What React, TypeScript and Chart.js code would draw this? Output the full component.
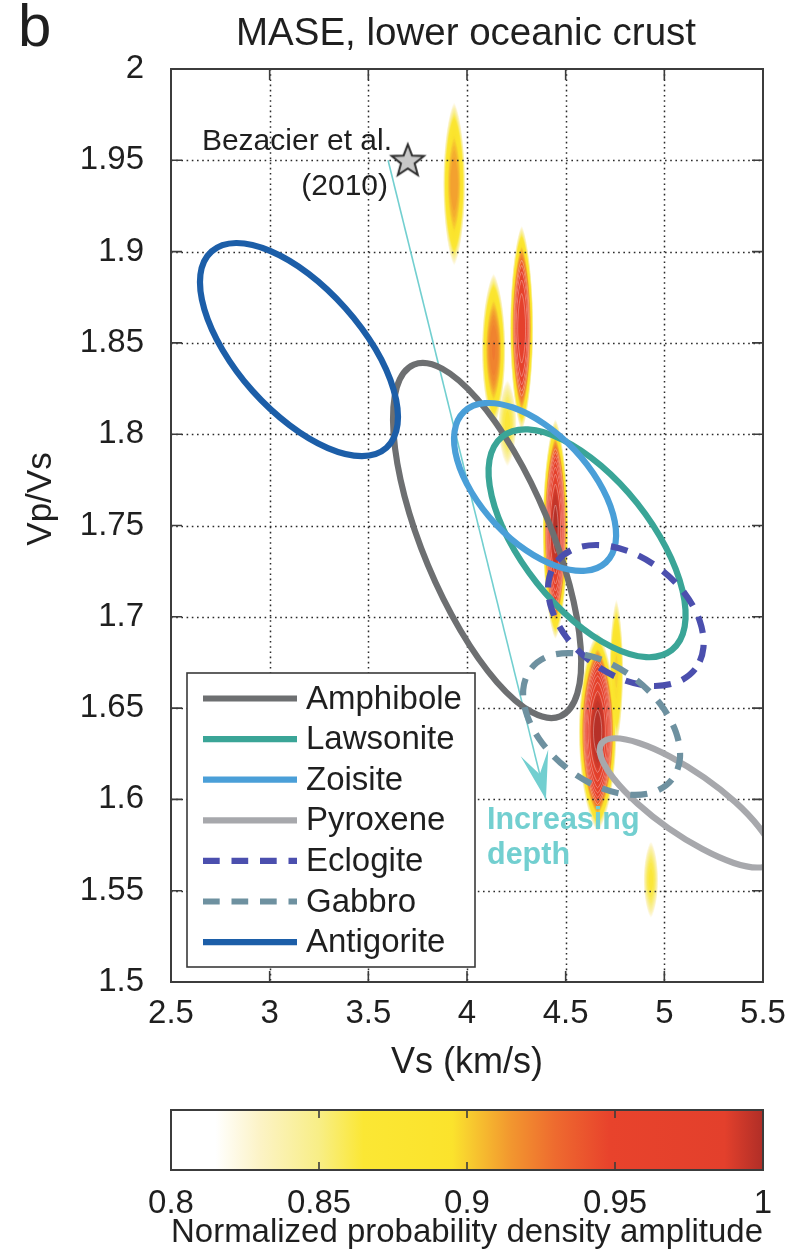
import React, { useEffect, useRef } from 'react';
import { Chart, registerables } from 'chart.js';

Chart.register(...registerables);

const FONT = '"Liberation Sans", Arial, Helvetica, sans-serif';
const TEXT = '#1f1f1f';

// ---------- axes ----------
const xTicks = [2.5, 3, 3.5, 4, 4.5, 5, 5.5];
const yTicks = [1.5, 1.55, 1.6, 1.65, 1.7, 1.75, 1.8, 1.85, 1.9, 1.95, 2];

// ---------- confidence ellipses: outline points [Vs, Vp/Vs] ----------
const amphibole: [number, number][] = [
  [4.472, 1.6455], [4.33, 1.6477], [4.152, 1.6642], [3.967, 1.6925], [3.802, 1.7283], [3.683, 1.7662],
  [3.628, 1.8003], [3.644, 1.8256], [3.731, 1.8381], [3.874, 1.8359], [4.051, 1.8194], [4.236, 1.7911],
  [4.401, 1.7553], [4.52, 1.7174], [4.576, 1.6832], [4.559, 1.658],
];
const lawsonite: [number, number][] = [
  [5.038, 1.6818], [4.908, 1.6779], [4.732, 1.6836], [4.538, 1.6978], [4.354, 1.7185], [4.209, 1.7425],
  [4.125, 1.7662], [4.114, 1.7859], [4.179, 1.7987], [4.309, 1.8026], [4.484, 1.797], [4.679, 1.7828],
  [4.863, 1.7621], [5.008, 1.738], [5.092, 1.7144], [5.103, 1.6946],
];
const zoisite: [number, number][] = [
  [4.704, 1.7298], [4.6, 1.7252], [4.457, 1.7276], [4.298, 1.7365], [4.145, 1.7508], [4.023, 1.7682],
  [3.95, 1.7859], [3.937, 1.8015], [3.986, 1.8124], [4.09, 1.817], [4.233, 1.8146], [4.392, 1.8056],
  [4.545, 1.7914], [4.667, 1.774], [4.74, 1.7562], [4.753, 1.7407],
];
const pyroxene: [number, number][] = [
  [5.542, 1.5655], [5.474, 1.5627], [5.352, 1.5652], [5.193, 1.5728], [5.021, 1.5842], [4.864, 1.5977],
  [4.744, 1.6113], [4.68, 1.6229], [4.682, 1.6307], [4.749, 1.6335], [4.871, 1.6309], [5.03, 1.6234],
  [5.202, 1.612], [5.36, 1.5985], [5.479, 1.5849], [5.544, 1.5733],
];
const eclogite: [number, number][] = [
  [5.156, 1.6713], [5.06, 1.664], [4.926, 1.6622], [4.773, 1.6663], [4.625, 1.6757], [4.504, 1.6888],
  [4.43, 1.7038], [4.412, 1.7183], [4.454, 1.7301], [4.55, 1.7375], [4.684, 1.7392], [4.837, 1.7351],
  [4.985, 1.7257], [5.105, 1.7126], [5.18, 1.6976], [5.198, 1.6831],
];
const gabbro: [number, number][] = [
  [5.038, 1.6108], [4.943, 1.6039], [4.809, 1.6027], [4.655, 1.6073], [4.505, 1.6172], [4.382, 1.6307],
  [4.305, 1.6458], [4.285, 1.6602], [4.326, 1.6718], [4.42, 1.6787], [4.555, 1.6799], [4.709, 1.6753],
  [4.859, 1.6654], [4.982, 1.6519], [5.059, 1.6368], [5.079, 1.6224],
];
const antigorite: [number, number][] = [
  [3.592, 1.7926], [3.468, 1.788], [3.295, 1.7924], [3.101, 1.8049], [2.913, 1.8237], [2.762, 1.846],
  [2.669, 1.8684], [2.649, 1.8874], [2.706, 1.9001], [2.83, 1.9047], [3.002, 1.9004], [3.197, 1.8879],
  [3.384, 1.869], [3.536, 1.8467], [3.628, 1.8244], [3.648, 1.8054],
];

const mineralNames = ['Amphibole', 'Lawsonite', 'Zoisite', 'Pyroxene', 'Eclogite', 'Gabbro', 'Antigorite'];
const mineralColors = ['#6d6f71', '#3aa597', '#4a9fd8', '#a7a8ac', '#4b4fae', '#6e91a0', '#1c5ea8'];
const mineralDashed = [false, false, false, false, true, true, false];
const mineralShapes = [amphibole, lawsonite, zoisite, pyroxene, eclogite, gabbro, antigorite];

// ---------- probability density peaks ----------
const blobVs = [3.935, 4.135, 4.277, 4.205, 4.448, 4.662, 4.757, 4.932];
const blobRatio = [1.937, 1.846, 1.858, 1.806, 1.748, 1.637, 1.67, 1.556];
const blobHalfVs = [0.058, 0.062, 0.06, 0.05, 0.066, 0.098, 0.036, 0.04];
const blobHalfRatio = [0.047, 0.044, 0.058, 0.026, 0.062, 0.056, 0.042, 0.023];
const blobPeak = [0.915, 0.925, 0.975, 0.865, 1.0, 1.0, 0.9, 0.865];

// ---------- reference point & arrow ----------
const starVs = [3.7];
const starRatio = [1.95];
const arrowVs = [3.6, 4.4];
const arrowRatio = [1.95, 1.6];

// ---------- colour map ----------
const cmapLevels = [0.8, 0.815, 0.83, 0.85, 0.865, 0.895, 0.9, 0.915, 0.93, 0.948, 0.987, 1.0];
const cmapColors = ['#ffffff', '#ffffff', '#fcf3c6', '#f8ee86', '#fbe734', '#fbe32c', '#f8cf2f',
  '#f2962f', '#ee6a2f', '#e8432c', '#e3402c', '#b02e27'];
const cbarTicks = [0.8, 0.85, 0.9, 0.95, 1];

function hexRgb(h: string) {
  const n = parseInt(h.slice(1), 16);
  return [(n >> 16) & 255, (n >> 8) & 255, n & 255];
}
function cmap(v: number): string {
  if (v <= cmapLevels[0]) return cmapColors[0];
  for (let i = 1; i < cmapLevels.length; i++) {
    if (v <= cmapLevels[i]) {
      const t = (v - cmapLevels[i - 1]) / (cmapLevels[i] - cmapLevels[i - 1]);
      const a = hexRgb(cmapColors[i - 1]);
      const b = hexRgb(cmapColors[i]);
      const c = a.map((q, k) => Math.round(q + (b[k] - q) * t));
      return `rgb(${c[0]},${c[1]},${c[2]})`;
    }
  }
  return cmapColors[cmapColors.length - 1];
}

function closedSpline(ctx: CanvasRenderingContext2D, pts: { x: number; y: number }[]) {
  const n = pts.length;
  ctx.beginPath();
  ctx.moveTo(pts[0].x, pts[0].y);
  for (let i = 0; i < n; i++) {
    const p0 = pts[(i - 1 + n) % n];
    const p1 = pts[i];
    const p2 = pts[(i + 1) % n];
    const p3 = pts[(i + 2) % n];
    ctx.bezierCurveTo(
      p1.x + (p2.x - p0.x) / 6,
      p1.y + (p2.y - p0.y) / 6,
      p2.x - (p3.x - p1.x) / 6,
      p2.y - (p3.y - p1.y) / 6,
      p2.x,
      p2.y,
    );
  }
  ctx.closePath();
}

function makeStar(): HTMLCanvasElement {
  const c = document.createElement('canvas');
  c.width = 40;
  c.height = 40;
  const g = c.getContext('2d')!;
  g.beginPath();
  for (let i = 0; i < 10; i++) {
    const r = i % 2 === 0 ? 17 : 7.2;
    const a = -Math.PI / 2 + (i * Math.PI) / 5;
    const px = 20 + r * Math.cos(a);
    const py = 21 + r * Math.sin(a);
    if (i === 0) g.moveTo(px, py);
    else g.lineTo(px, py);
  }
  g.closePath();
  g.fillStyle = '#c8c8c8';
  g.fill();
  g.lineWidth = 2;
  g.strokeStyle = '#2e2e2e';
  g.stroke();
  return c;
}

function blobPath(ctx: CanvasRenderingContext2D, cx: number, cy: number, rx: number, ry: number) {
  ctx.beginPath();
  for (let k = 0; k <= 48; k++) {
    const t = (k / 48) * Math.PI * 2;
    const c = Math.cos(t);
    const px = cx + rx * Math.sign(c) * Math.pow(Math.abs(c), 1.4);
    const py = cy + ry * Math.sin(t);
    if (k === 0) ctx.moveTo(px, py);
    else ctx.lineTo(px, py);
  }
  ctx.closePath();
}

const mainPlugin = {
  id: 'mainDecor',
  beforeDraw(chart: any) {
    const { ctx, chartArea: a, scales } = chart;
    const x = scales.x;
    const y = scales.y;
    ctx.save();
    ctx.beginPath();
    ctx.rect(a.left, a.top, a.right - a.left, a.bottom - a.top);
    ctx.clip();
    const top = Math.max(...blobPeak);
    let step = 0;
    for (let L = 0.816; L <= top; L += 0.0032, step++) {
      for (let b = 0; b < blobVs.length; b++) {
        const p = blobPeak[b];
        if (L > p) continue;
        const f = Math.pow((p - L) / (p - 0.8), 0.32);
        const cx = x.getPixelForValue(blobVs[b]);
        const cy = y.getPixelForValue(blobRatio[b]);
        const rx = Math.abs(x.getPixelForValue(blobVs[b] + blobHalfVs[b]) - cx) * f;
        const ry = Math.abs(y.getPixelForValue(blobRatio[b] + blobHalfRatio[b]) - cy) * f;
        blobPath(ctx, cx, cy, rx, ry);
        ctx.fillStyle = cmap(L);
        ctx.fill();
        if (L > 0.93 && step % 3 === 0) {
          ctx.strokeStyle = 'rgba(255,255,255,0.45)';
          ctx.lineWidth = 0.7;
          ctx.stroke();
        }
      }
    }
    ctx.restore();
  },
  beforeDatasetsDraw(chart: any) {
    const { ctx, chartArea: a, scales } = chart;
    ctx.save();
    ctx.strokeStyle = '#2a2a2a';
    ctx.lineWidth = 1.5;
    ctx.setLineDash([1.6, 3.6]);
    scales.x.ticks.forEach((t: any) => {
      const px = Math.round(scales.x.getPixelForValue(t.value)) + 0.5;
      if (px < a.left + 2 || px > a.right - 2) return;
      ctx.beginPath();
      ctx.moveTo(px, a.top);
      ctx.lineTo(px, a.bottom);
      ctx.stroke();
    });
    scales.y.ticks.forEach((t: any) => {
      const py = Math.round(scales.y.getPixelForValue(t.value)) + 0.5;
      if (py < a.top + 2 || py > a.bottom - 2) return;
      ctx.beginPath();
      ctx.moveTo(a.left, py);
      ctx.lineTo(a.right, py);
      ctx.stroke();
    });
    ctx.restore();
  },
  afterDatasetsDraw(chart: any) {
    const { ctx, chartArea: a, scales } = chart;
    // ellipses
    ctx.save();
    ctx.beginPath();
    ctx.rect(a.left, a.top, a.right - a.left, a.bottom - a.top);
    ctx.clip();
    for (let i = 0; i < mineralShapes.length; i++) {
      const meta = chart.getDatasetMeta(i);
      const pts = meta.data.map((e: any) => ({ x: e.x, y: e.y }));
      ctx.strokeStyle = mineralColors[i];
      ctx.lineWidth = 6.2;
      ctx.lineCap = 'butt';
      ctx.lineJoin = 'round';
      ctx.setLineDash(mineralDashed[i] ? [17, 12] : []);
      closedSpline(ctx, pts);
      ctx.stroke();
    }
    ctx.setLineDash([]);
    // arrow head
    const am = chart.getDatasetMeta(mineralShapes.length);
    const p0 = am.data[0];
    const p1 = am.data[1];
    const dx = p1.x - p0.x;
    const dy = p1.y - p0.y;
    const len = Math.hypot(dx, dy);
    const ux = dx / len;
    const uy = dy / len;
    const L = 50;
    const th = (16.5 * Math.PI) / 180;
    const rot = (ang: number) => ({
      x: -(ux * Math.cos(ang) - uy * Math.sin(ang)),
      y: -(ux * Math.sin(ang) + uy * Math.cos(ang)),
    });
    const w1 = rot(th);
    const w2 = rot(-th);
    ctx.fillStyle = '#72cfd0';
    ctx.beginPath();
    ctx.moveTo(p1.x, p1.y);
    ctx.lineTo(p1.x + w1.x * L, p1.y + w1.y * L);
    ctx.lineTo(p1.x - ux * L * 0.52, p1.y - uy * L * 0.52);
    ctx.lineTo(p1.x + w2.x * L, p1.y + w2.y * L);
    ctx.closePath();
    ctx.fill();
    ctx.restore();

    // annotations
    ctx.save();
    ctx.fillStyle = TEXT;
    ctx.font = `30px ${FONT}`;
    ctx.textAlign = 'right';
    ctx.textBaseline = 'middle';
    ctx.fillText('Bezacier et al.', 392, 142);
    ctx.fillText('(2010)', 388, 187);
    ctx.fillStyle = '#72cfd0';
    ctx.font = `bold 30.5px ${FONT}`;
    ctx.textAlign = 'left';
    ctx.fillText('Increasing', 487, 821);
    ctx.fillText('depth', 487, 856);
    ctx.restore();

    // legend
    ctx.save();
    const bw = 288;
    const bh = 294;
    const bl = a.left + 16;
    const bt = a.bottom - 15 - bh;
    ctx.fillStyle = '#ffffff';
    ctx.fillRect(bl, bt, bw, bh);
    ctx.strokeStyle = '#3a3a3a';
    ctx.lineWidth = 1.6;
    ctx.strokeRect(bl, bt, bw, bh);
    ctx.font = `33px ${FONT}`;
    ctx.textBaseline = 'middle';
    ctx.textAlign = 'left';
    for (let i = 0; i < mineralNames.length; i++) {
      const yy = bt + 25.5 + i * 40.6;
      ctx.strokeStyle = mineralColors[i];
      ctx.lineWidth = 6.2;
      ctx.setLineDash(mineralDashed[i] ? [16.7, 11.8] : []);
      ctx.beginPath();
      ctx.moveTo(bl + 16, yy);
      ctx.lineTo(bl + 110, yy);
      ctx.stroke();
      ctx.setLineDash([]);
      ctx.fillStyle = TEXT;
      ctx.fillText(chart.data.datasets[i].label, bl + 119, yy + 1);
    }
    ctx.restore();

    // frame and inward ticks
    ctx.save();
    ctx.strokeStyle = '#3c3c3c';
    ctx.lineWidth = 2;
    ctx.strokeRect(a.left, a.top, a.right - a.left, a.bottom - a.top);
    ctx.lineWidth = 1.6;
    ctx.beginPath();
    scales.x.ticks.forEach((t: any) => {
      const px = scales.x.getPixelForValue(t.value);
      ctx.moveTo(px, a.bottom);
      ctx.lineTo(px, a.bottom - 11);
      ctx.moveTo(px, a.top);
      ctx.lineTo(px, a.top + 11);
    });
    scales.y.ticks.forEach((t: any) => {
      const py = scales.y.getPixelForValue(t.value);
      ctx.moveTo(a.left, py);
      ctx.lineTo(a.left + 11, py);
      ctx.moveTo(a.right, py);
      ctx.lineTo(a.right - 11, py);
    });
    ctx.stroke();
    ctx.restore();
  },
  afterDraw(chart: any) {
    const { ctx } = chart;
    ctx.save();
    ctx.fillStyle = TEXT;
    ctx.textBaseline = 'middle';
    ctx.textAlign = 'left';
    ctx.font = `60px ${FONT}`;
    ctx.fillText('b', 18, 29);
    ctx.textAlign = 'center';
    ctx.font = `38.5px ${FONT}`;
    ctx.fillText('MASE, lower oceanic crust', 466, 34);
    ctx.translate(41, 499);
    ctx.rotate(-Math.PI / 2);
    ctx.font = `35px ${FONT}`;
    ctx.fillText('Vp/Vs', 0, 0);
    ctx.restore();
  },
};

const cbarPlugin = {
  id: 'cbarDecor',
  afterDatasetsDraw(chart: any) {
    const { ctx, chartArea: a, scales } = chart;
    ctx.save();
    ctx.strokeStyle = '#3c3c3c';
    ctx.lineWidth = 2;
    ctx.strokeRect(a.left, a.top, a.right - a.left, a.bottom - a.top);
    ctx.lineWidth = 1.6;
    ctx.beginPath();
    scales.x.ticks.forEach((t: any) => {
      const px = scales.x.getPixelForValue(t.value);
      ctx.moveTo(px, a.bottom);
      ctx.lineTo(px, a.bottom - 8);
      ctx.moveTo(px, a.top);
      ctx.lineTo(px, a.top + 8);
    });
    ctx.stroke();
    ctx.restore();
  },
};

export default function App() {
  const mainRef = useRef<HTMLCanvasElement | null>(null);
  const cbRef = useRef<HTMLCanvasElement | null>(null);

  useEffect(() => {
    Chart.defaults.font.family = FONT;
    Chart.defaults.color = TEXT;
    const star = makeStar();

    const ellipseDatasets = mineralShapes.map((shape, i) => ({
      label: mineralNames[i],
      data: shape.map(([vs, r]) => ({ x: vs, y: r })),
      showLine: false,
      pointRadius: 0,
      pointHoverRadius: 0,
      borderColor: mineralColors[i],
      backgroundColor: mineralColors[i],
    }));

    const main = new Chart(mainRef.current!, {
      type: 'scatter',
      data: {
        datasets: [
          ...ellipseDatasets,
          {
            label: 'Increasing depth',
            data: arrowVs.map((v, i) => ({ x: v, y: arrowRatio[i] })),
            showLine: true,
            borderColor: '#72cfd0',
            borderWidth: 1.6,
            pointRadius: 0,
            pointHoverRadius: 0,
          },
          {
            label: 'Bezacier et al. (2010)',
            data: starVs.map((v, i) => ({ x: v, y: starRatio[i] })),
            pointStyle: star as any,
            pointRadius: 17,
            borderWidth: 0,
          },
        ] as any,
      },
      options: {
        animation: false,
        responsive: false,
        maintainAspectRatio: false,
        devicePixelRatio: 1,
        events: [],
        layout: { padding: { top: 69, right: 47, left: 0, bottom: 0 } },
        plugins: { legend: { display: false }, tooltip: { enabled: false }, title: { display: false } },
        scales: {
          x: {
            type: 'linear',
            min: 2.5,
            max: 5.5,
            afterBuildTicks: (s: any) => {
              s.ticks = xTicks.map((v) => ({ value: v }));
            },
            afterFit: (s: any) => {
              s.height = 108;
            },
            ticks: {
              autoSkip: false,
              maxRotation: 0,
              padding: 4,
              color: TEXT,
              font: { size: 33, family: FONT },
              callback: (v: any) => String(v),
            },
            grid: { display: false },
            border: { display: false },
            title: {
              display: true,
              text: 'Vs (km/s)',
              color: TEXT,
              font: { size: 36, family: FONT, lineHeight: 1 },
              padding: { top: 0, bottom: 9 },
            },
          },
          y: {
            type: 'linear',
            min: 1.5,
            max: 2,
            afterBuildTicks: (s: any) => {
              s.ticks = yTicks.map((v) => ({ value: v }));
            },
            afterFit: (s: any) => {
              s.width = 171;
            },
            ticks: {
              autoSkip: false,
              padding: 19,
              color: TEXT,
              font: { size: 33, family: FONT },
              callback: (v: any) => String(v),
            },
            grid: { display: false },
            border: { display: false },
          },
        },
      } as any,
      plugins: [mainPlugin],
    });

    const cbar = new Chart(cbRef.current!, {
      type: 'bar',
      data: {
        labels: ['amplitude'],
        datasets: [
          {
            label: 'Normalized probability density amplitude',
            data: [[cmapLevels[0], cmapLevels[cmapLevels.length - 1]]] as any,
            barPercentage: 1,
            categoryPercentage: 1,
            borderWidth: 0,
            backgroundColor: (c: any) => {
              const ch = c.chart;
              const xs = ch.scales.x;
              if (!ch.chartArea || !xs) return '#ffffff';
              const lo = cmapLevels[0];
              const hi = cmapLevels[cmapLevels.length - 1];
              const g = ch.ctx.createLinearGradient(xs.getPixelForValue(lo), 0, xs.getPixelForValue(hi), 0);
              cmapLevels.forEach((lv, i) => g.addColorStop((lv - lo) / (hi - lo), cmapColors[i]));
              return g;
            },
          },
        ],
      },
      options: {
        indexAxis: 'y',
        animation: false,
        responsive: false,
        maintainAspectRatio: false,
        devicePixelRatio: 1,
        events: [],
        layout: { padding: { top: 20, right: 47, left: 171, bottom: 0 } },
        plugins: { legend: { display: false }, tooltip: { enabled: false } },
        scales: {
          x: {
            type: 'linear',
            min: 0.8,
            max: 1,
            afterBuildTicks: (s: any) => {
              s.ticks = cbarTicks.map((v) => ({ value: v }));
            },
            afterFit: (s: any) => {
              s.height = 81;
            },
            ticks: {
              autoSkip: false,
              maxRotation: 0,
              padding: 6,
              color: TEXT,
              font: { size: 33, family: FONT },
              callback: (v: any) => String(v),
            },
            grid: { display: false },
            border: { display: false },
            title: {
              display: true,
              text: 'Normalized probability density amplitude',
              color: TEXT,
              font: { size: 33, family: FONT, lineHeight: 1 },
              padding: { top: 0, bottom: 2 },
            },
          },
          y: { display: false },
        },
      } as any,
      plugins: [cbarPlugin],
    });

    return () => {
      main.destroy();
      cbar.destroy();
    };
  }, []);

  return (
    <div style={{ position: 'absolute', left: 0, top: 0, width: 810, height: 1251, background: '#ffffff' }}>
      <canvas
        ref={mainRef}
        width={810}
        height={1090}
        style={{ position: 'absolute', left: 0, top: 0, width: 810, height: 1090 }}
      />
      <canvas
        ref={cbRef}
        width={810}
        height={161}
        style={{ position: 'absolute', left: 0, top: 1090, width: 810, height: 161 }}
      />
    </div>
  );
}
